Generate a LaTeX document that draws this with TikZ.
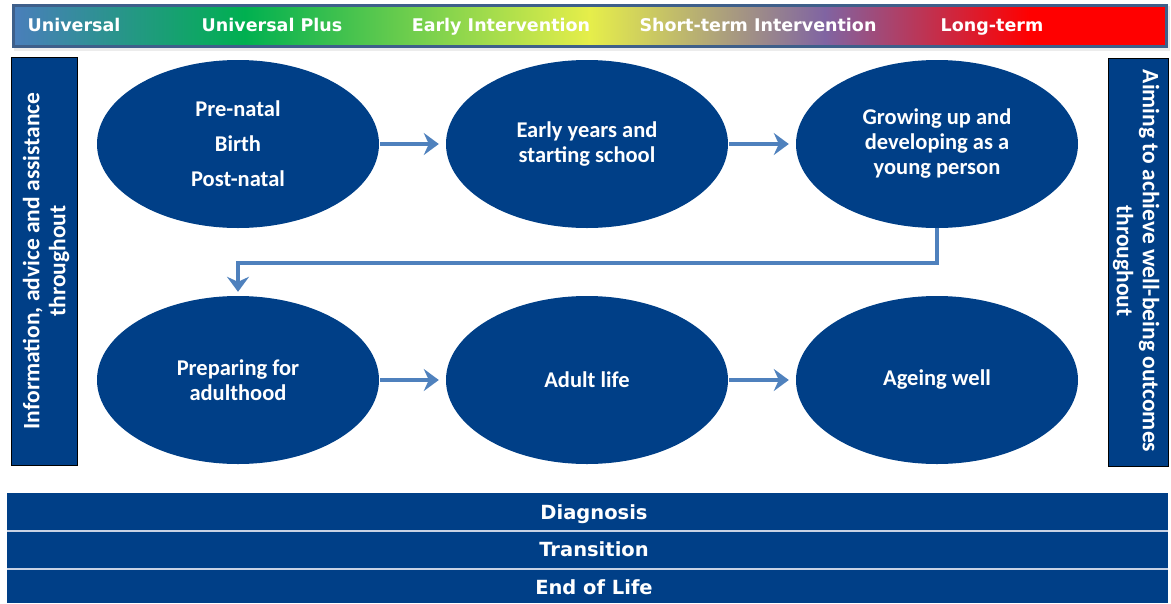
\documentclass[tikz,border=0pt]{standalone}
\usepackage{fontspec}
\setmainfont{Carlito}
\newfontfamily\barfont{DejaVu Sans}
\usetikzlibrary{arrows.meta,shapes.geometric}
\definecolor{navy}{RGB}{0,63,135}
\definecolor{arrowblue}{RGB}{79,129,189}
\definecolor{barborder}{RGB}{62,95,138}
\definecolor{gblue}{RGB}{74,126,187}
\definecolor{ggreen}{RGB}{0,176,80}
\definecolor{gyellow}{RGB}{230,238,74}
\definecolor{gpurple}{RGB}{128,100,162}
\definecolor{gred}{RGB}{255,0,0}
\definecolor{sepline}{RGB}{200,210,228}
\tikzset{
  stage/.style={ellipse, fill=navy, minimum width=282, minimum height=168, inner sep=0,
    text=white, align=center, font=\bfseries\fontsize{22.5}{25}\selectfont},
  sidebox/.style={fill=navy, draw=black, line width=0.8},
  sidetext/.style={text=white, align=center, font=\bfseries\fontsize{23.5}{26}\selectfont},
  flow/.style={draw=arrowblue, line width=4.5, -{Stealth[length=15pt,width=22pt,inset=5pt]}},
  toplabel/.style={text=white, anchor=base, font=\barfont\bfseries\fontsize{17.5}{20}\selectfont},
  botlabel/.style={text=white, anchor=base, font=\barfont\bfseries\fontsize{19.5}{22}\selectfont}
}
\begin{document}
\begin{tikzpicture}[x=1pt,y=-1pt]
\useasboundingbox (0,0) rectangle (1171,603);
% top gradient bar
\fill[gray!15] (14,6) rectangle (1170,51);
\fill[left color=gblue, right color=ggreen] (13,5) rectangle (245,47);
\fill[left color=ggreen, right color=gyellow] (244.5,5) rectangle (590,47);
\fill[left color=gyellow, right color=gpurple] (589.5,5) rectangle (825,47);
\fill[left color=gpurple, right color=gred] (824.5,5) rectangle (1030,47);
\fill[gred] (1029.5,5) rectangle (1167,47);
\draw[barborder, line width=3] (13.5,5.5) rectangle (1166.5,46.5);
\node[toplabel] (l1) at (74,31.5) {Universal};
\node[toplabel] (l2) at (272,31.5) {Universal Plus};
\node[toplabel] (l3) at (501,31.5) {Early Intervention};
\node[toplabel] (l4) at (758,31.5) {Short-term Intervention};
\node[toplabel] (l5) at (992,31.5) {Long-term};
% side boxes
\draw[sidebox] (11,57) rectangle (77,465);
\draw[sidebox] (1108,58) rectangle (1168,466);
\node[sidetext, rotate=90] (left) at (46,261) {Information, advice and assistance\\throughout};
\node[sidetext, rotate=-90] (right) at (1136,261) {Aiming to achieve well-being outcomes\\throughout};
% stages
\node[stage] (e1) at (238,144) {Pre-natal\\[10pt]Birth\\[10pt]Post-natal};
\node[stage] (e2) at (587,144) {Early years and\\starting school};
\node[stage] (e3) at (937,144) {Growing up and\\developing as a\\young person};
\node[stage] (e4) at (238,380) {Preparing for\\adulthood};
\node[stage] (e5) at (587,380) {Adult life};
\node[stage] (e6) at (937,380) {Ageing well};
% connectors
\draw[flow, shorten <=1pt, shorten >=7pt] (e1) -- (e2);
\draw[flow, shorten <=1pt, shorten >=7pt] (e2) -- (e3);
\draw[flow, shorten <=1pt, shorten >=7pt] (e4) -- (e5);
\draw[flow, shorten <=1pt, shorten >=7pt] (e5) -- (e6);
\draw[flow, shorten >=4pt] (e3.south) -- (e3.south |- 0,263) -| (e4.north);
% bottom bars
\fill[navy] (7,493) rectangle (1168,603);
\draw[sepline, line width=1.5] (7,531) -- (1168,531);
\draw[sepline, line width=1.5] (7,569) -- (1168,569);
\node[botlabel] (b1) at (594,519.5) {Diagnosis};
\node[botlabel] (b2) at (594,556) {Transition};
\node[botlabel] (b3) at (594,594.5) {End of Life};
\end{tikzpicture}
\end{document}
